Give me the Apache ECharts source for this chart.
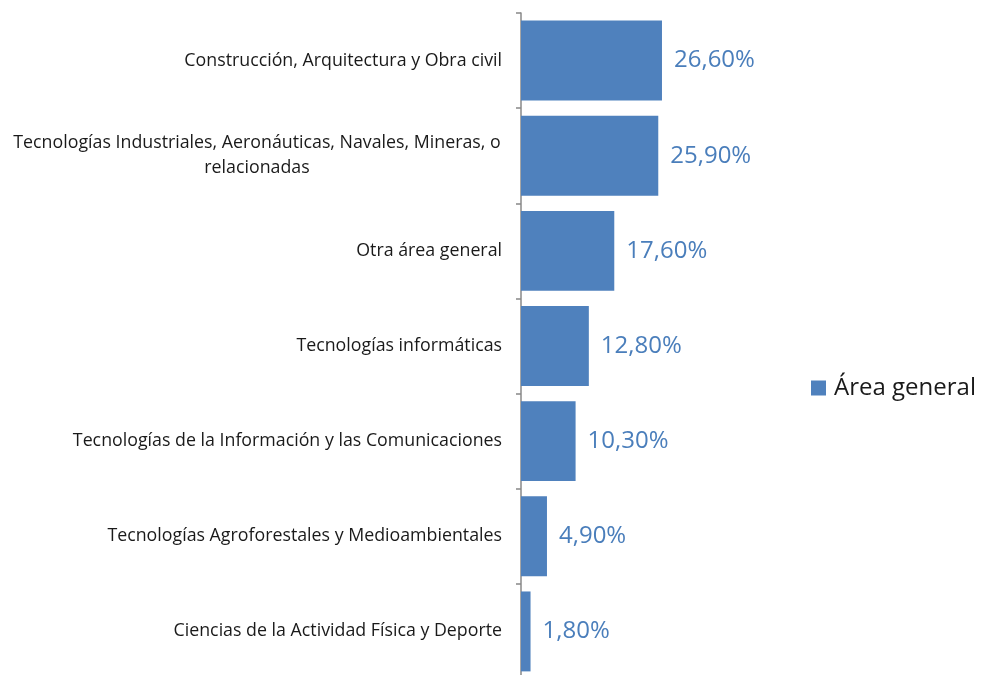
<!DOCTYPE html>
<html>
<head>
<meta charset="utf-8">
<script src="https://cdn.jsdelivr.net/npm/echarts@6/dist/echarts.min.js"></script>
<style>
  html, body { margin: 0; padding: 0; background: #fff; }
  #chart { width: 984px; height: 675px; }
</style>
</head>
<body>
<div id="chart"></div>
<script>
// categorías, de arriba abajo
const categories = [
  'Construcción, Arquitectura y Obra civil',
  'Tecnologías Industriales, Aeronáuticas, Navales, Mineras, o\nrelacionadas',
  'Otra área general',
  'Tecnologías informáticas',
  'Tecnologías de la Información y las Comunicaciones',
  'Tecnologías Agroforestales y Medioambientales',
  'Ciencias de la Actividad Física y Deporte',
];
// porcentajes
const values = [26.6, 25.9, 17.6, 12.8, 10.3, 4.9, 1.8];
const seriesName = 'Área general';

const chart = echarts.init(document.getElementById('chart'));
chart.setOption({
  animation: false,
  textStyle: { fontFamily: 'Open Sans' },
  grid: {
    left: 521,
    width: 159,
    top: 13,
    height: 666, // el eje sigue por debajo del borde
    outerBoundsMode: 'none',
  },
  legend: {
    data: [seriesName],
    left: 806,
    top: 370,
    icon: 'rect',
    itemWidth: 15,
    itemHeight: 15,
    textStyle: {
      fontSize: 24,
      lineHeight: 26,
      color: '#1a1a1a',
      padding: [0, 0, 0, 3],
    },
  },
  xAxis: {
    type: 'value',
    min: 0,
    max: 30,
    show: false,
  },
  yAxis: {
    type: 'category',
    inverse: true,
    data: categories,
    axisLine: { lineStyle: { color: '#888888', width: 1.5 } },
    axisTick: { show: true, length: 5, lineStyle: { color: '#888888', width: 1.5 } },
    axisLabel: {
      margin: 19,
      fontSize: 17.8,
      color: '#1a1a1a',
      lineHeight: 25,
      formatter: (v) => {
        if (v.indexOf('\n') < 0) return v;
        // etiqueta en dos líneas, centradas
        return v.split('\n').map((s) => '{c|' + s + '}').join('\n');
      },
      rich: {
        c: { width: 490, align: 'center', fontSize: 17.8, lineHeight: 25, color: '#1a1a1a' },
      },
    },
  },
  series: [
    {
      name: seriesName,
      type: 'bar',
      data: values,
      barCategoryGap: '16%',
      itemStyle: { color: '#4F81BD' },
      label: {
        show: true,
        position: 'right',
        distance: 12,
        fontSize: 24,
        color: '#4A7EBB',
        formatter: (p) => p.value.toFixed(2).replace('.', ',') + '%',
      },
    },
  ],
});
</script>
</body>
</html>
